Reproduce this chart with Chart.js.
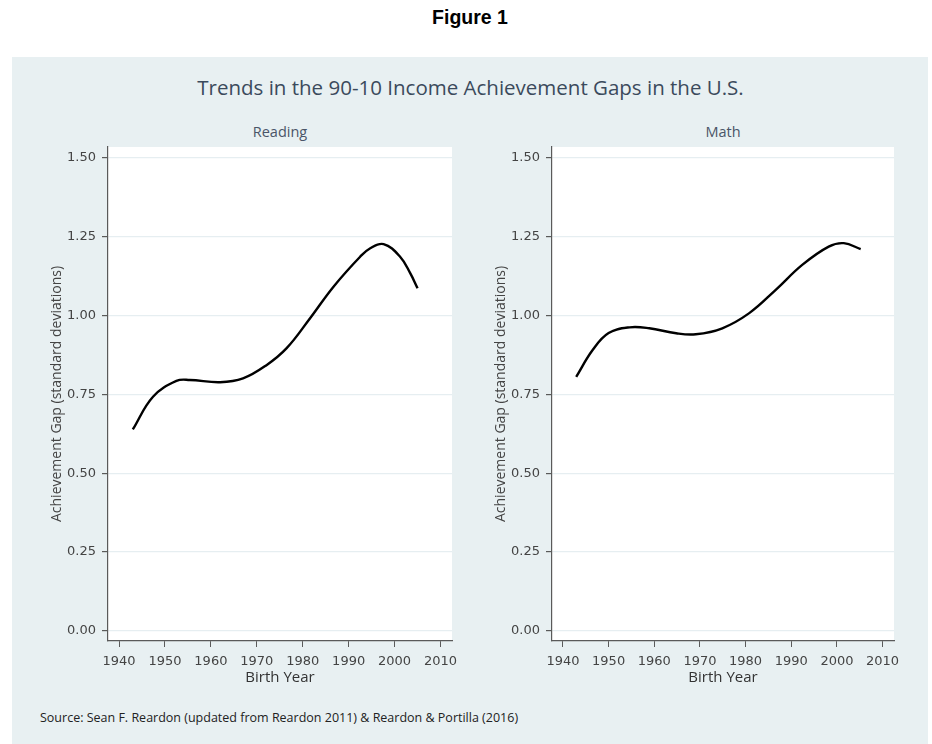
<!DOCTYPE html>
<html lang="en">
<head>
<meta charset="UTF-8">
<title>Figure 1</title>
<style>
    body {
        margin: 0;
        width: 932px;
        height: 744px;
        background: #ffffff;
        position: relative;
        overflow: hidden;
        font-family: "Open Sans", sans-serif;
    }
    .fig-label {
        position: absolute;
        top: 6px;
        left: 0;
        width: 940px;
        text-align: center;
        font-family: "Liberation Sans", Arial, sans-serif;
        font-weight: bold;
        font-size: 19.5px;
        color: #000;
    }
    .panel {
        position: absolute;
        left: 12px;
        top: 57px;
        width: 916px;
        height: 700px;
        background: #e8f0f2;
    }
    .main-title {
        position: absolute;
        top: 73px;
        left: 0;
        width: 941px;
        text-align: center;
        font-size: 20.5px;
        color: #3b4a5c;
    }
    .sub-title {
        position: absolute;
        top: 122px;
        width: 200px;
        text-align: center;
        font-size: 14.5px;
        color: #4a5568;
    }
    .source {
        position: absolute;
        left: 40px;
        top: 709px;
        font-size: 12.5px;
        color: #222;
    }
    canvas {
        position: absolute;
    }
</style>
</head>
<body>

<div class="fig-label">Figure 1</div>
<div class="panel"></div>
<div class="main-title">Trends in the 90-10 Income Achievement Gaps in the U.S.</div>

<div class="sub-title" style="left:180px;">Reading</div>
<div class="sub-title" style="left:623px;">Math</div>

<canvas id="readingChart" width="450" height="580" style="left:20px; top:120px;"></canvas>
<canvas id="mathChart" width="450" height="580" style="left:464px; top:120px;"></canvas>

<div class="source">Source: Sean F. Reardon (updated from Reardon 2011) &amp; Reardon &amp; Portilla (2016)</div>

<script src="https://cdn.jsdelivr.net/npm/chart.js"></script>
<script>
    // values
    const yearTicks = [1940, 1950, 1960, 1970, 1980, 1990, 2000, 2010];
    const gapTicks = [0, 0.25, 0.5, 0.75, 1.0, 1.25, 1.5];

    const readingYears = [1943.0, 1947.4, 1952.5, 1955.4, 1962.0, 1967.0, 1972.1, 1976.5, 1981.6, 1986.7, 1992.5, 1994.7, 1997.6, 2001.2, 2003.4, 2005.0];
    const readingGap   = [0.639, 0.743, 0.793, 0.796, 0.789, 0.801, 0.843, 0.897, 0.992, 1.092, 1.187, 1.214, 1.227, 1.187, 1.135, 1.087];

    const mathYears = [1942.9, 1946.5, 1950.0, 1954.6, 1958.9, 1964.8, 1969.1, 1974.9, 1980.8, 1986.6, 1992.4, 1998.2, 2001.5, 2005.2];
    const mathGap   = [0.806, 0.891, 0.945, 0.963, 0.960, 0.944, 0.941, 0.960, 1.008, 1.082, 1.161, 1.219, 1.230, 1.211];

    const axisColor = '#5a5a5a';
    const tickFont = { family: 'DejaVu Sans', size: 13 };

    const whiteArea = {
        id: 'whiteArea',
        beforeDraw(chart) {
            const a = chart.chartArea;
            chart.ctx.save();
            chart.ctx.fillStyle = '#ffffff';
            chart.ctx.fillRect(a.left, a.top, a.right - a.left, a.bottom - a.top);
            chart.ctx.restore();
        }
    };

    function makeChart(id, years, gaps, padRight) {
        const points = years.map((x, i) => ({ x: x, y: gaps[i] }));
        return new Chart(document.getElementById(id), {
            type: 'line',
            data: {
                datasets: [{
                    data: points,
                    borderColor: '#000000',
                    borderWidth: 2.4,
                    pointRadius: 0,
                    fill: false,
                    tension: 0.4
                }]
            },
            options: {
                responsive: false,
                animation: false,
                layout: { padding: { right: padRight, left: 0, top: 27, bottom: 0 } },
                plugins: {
                    legend: { display: false },
                    tooltip: { enabled: false }
                },
                scales: {
                    x: {
                        type: 'linear',
                        min: 1937.6,
                        max: 2012.5,
                        afterBuildTicks: s => { s.ticks = yearTicks.map(v => ({ value: v })); },
                        afterFit: s => { s.height = 59; },
                        ticks: {
                            color: '#444',
                            font: tickFont,
                            padding: 7,
                            maxRotation: 0,
                            callback: v => String(v)
                        },
                        grid: { drawOnChartArea: false, tickColor: axisColor, tickLength: 6 },
                        border: { color: axisColor, width: 1.2 },
                        title: {
                            display: true,
                            text: 'Birth Year',
                            color: '#333',
                            font: { family: 'Open Sans', size: 15, lineHeight: 1.2 },
                            padding: { top: 0, bottom: 13 }
                        }
                    },
                    y: {
                        type: 'linear',
                        min: -0.032,
                        max: 1.535,
                        afterBuildTicks: s => { s.ticks = gapTicks.map(v => ({ value: v })); },
                        afterFit: s => { s.width = 88; },
                        ticks: {
                            color: '#444',
                            font: tickFont,
                            padding: 6,
                            callback: v => v.toFixed(2)
                        },
                        grid: { color: '#e6eef1', lineWidth: 1.2, tickColor: axisColor, tickLength: 6 },
                        border: { color: axisColor, width: 1.2 },
                        title: {
                            display: true,
                            text: 'Achievement Gap (standard deviations)',
                            color: '#444',
                            font: { family: 'Open Sans', size: 14, lineHeight: 1.2 },
                            padding: { top: 29, bottom: 0 }
                        }
                    }
                }
            },
            plugins: [whiteArea]
        });
    }

    makeChart('readingChart', readingYears, readingGap, 18);
    makeChart('mathChart', mathYears, mathGap, 20);
</script>
</body>
</html>
